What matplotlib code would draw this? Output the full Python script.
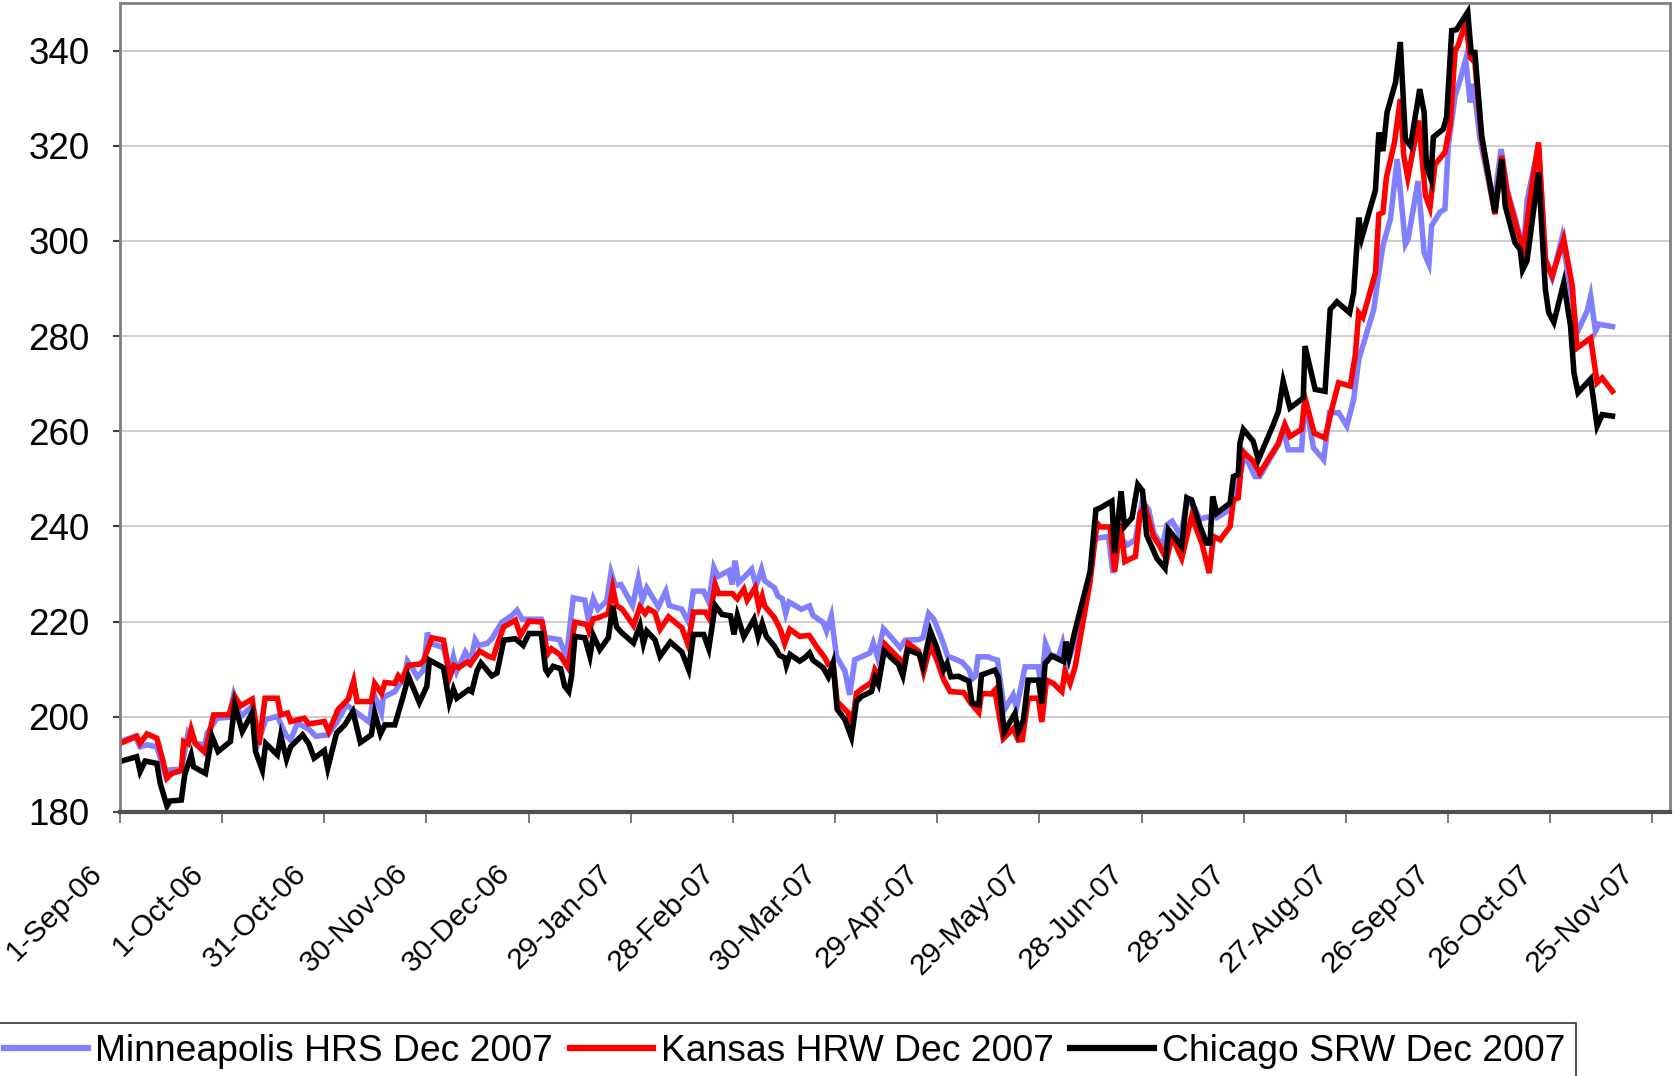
import matplotlib
matplotlib.use('Agg')
import matplotlib.pyplot as plt
from matplotlib.transforms import ScaledTranslation

plt.rcParams['font.family'] = ['Liberation Sans', 'DejaVu Sans']

# x values are days since 1-Sep-2006
mpls_day = [0, 4.4, 5.9, 7.9, 10.8, 13.3, 14.3, 18.0, 20.0, 22.1, 24.9, 25.6, 28.5, 32.0, 33.4, 35.4, 38.8, 40.8, 42.8, 46.2, 48.7, 50.1, 52.1, 55.6, 57.5, 61.0,
            63.6, 66.5, 70.4, 73.3, 74.5, 76.8, 77.3, 80.7, 82.2, 83.2, 84.4, 86.1, 87.3, 89.1, 90.3, 91.0, 95.0, 96.7, 97.9, 98.9, 101.4, 103.0, 104.3, 105.3, 107.8, 109.2, 110.7, 112.2, 115.1, 116.6, 118.1, 123.7, 125.0,
            125.7, 129.1, 131.1, 133.1, 136.5, 137.5, 139.0, 140.4, 142.9, 144.2, 145.4, 147.1, 150.5, 152.2, 153.4, 154.7, 158.1, 160.3, 161.3, 165.0, 167.0, 168.4, 171.4, 172.9, 174.4, 175.6, 178.8, 179.8, 180.6, 181.7, 184.2, 185.5, 186.8, 188.4,
            189.3, 192.2, 193.2, 194.5, 195.5, 196.5, 200.1, 202.5, 203.5, 206.5, 207.5, 208.9, 210.4, 212.9, 214.3, 215.8, 220.2, 221.2, 222.4, 224.2, 227.1, 229.1, 230.6, 234.5, 235.8, 237.5, 239.0, 241.4, 243.1, 244.3, 247.3, 249.3, 250.2, 251.2,
            252.0, 255.0, 255.9, 257.7, 259.7, 262.3, 263.3, 265.8, 269.7, 270.5, 271.8, 273.1, 275.6, 276.8, 278.0, 280.5, 284.9, 286.2, 286.9, 290.3, 291.6, 293.5, 295.8, 298.2, 300.2, 302.1, 303.6, 306.1, 307.5, 309.0, 311.5, 313.4, 315.9,
            317.0, 319.5, 322.0, 325.9, 327.9, 330.3, 333.3, 334.7, 340.2, 341.6, 343.1, 347.0, 348.0, 350.5, 353.5, 355.2, 357.9, 360.3, 362.3, 363.8, 368.2, 369.7, 370.9, 373.1, 375.1, 377.5,
            378.3, 381.2, 383.0, 384.4, 385.2, 387.6, 389.1, 390.1, 392.1, 393.5, 395.2, 396.5, 397.5, 399.4, 403.4, 405.6, 407.3, 409.7, 412.2, 413.2, 416.6, 418.6, 420.6, 423.5, 426.0, 427.9, 430.9, 431.9, 433.3, 434.3, 438.3]
mpls_val = [194.8, 195.9, 193.7, 194.1, 193.7, 187.8, 188.8, 189.0, 196.6, 194.4, 194.1, 196.6, 199.7, 199.9, 204.6, 200.0, 202.2, 195.1, 199.4, 200.1, 196.2, 195.1, 198.7, 197.3, 195.9, 196.2,
            198.8, 202.5, 200.4, 198.8, 204.9, 200.8, 204.1, 205.3, 207.0, 207.5, 211.7, 209.9, 208.4, 209.8, 217.7, 215.5, 214.5, 209.2, 212.6, 209.6, 213.6, 211.7, 216.2, 215.0, 215.4, 216.4, 218.2, 219.9, 221.3, 222.4, 220.5, 220.5, 216.2,
            216.6, 216.2, 212.4, 225.0, 224.5, 220.5, 224.8, 222.6, 224.3, 230.3, 227.5, 227.8, 223.4, 229.0, 224.5, 227.1, 223.1, 226.4, 223.4, 222.6, 219.8, 226.4, 226.4, 224.1, 231.4, 229.5, 230.7, 227.8, 232.8, 228.2, 230.0, 231.0, 227.5, 231.0,
            228.6, 227.1, 225.4, 224.8, 221.7, 224.1, 222.6, 223.3, 221.3, 219.8, 218.0, 221.2, 212.7, 209.6, 204.6, 212.0, 213.4, 215.5, 212.7, 218.5, 216.2, 214.5, 216.1, 216.2, 216.6, 221.7, 220.5, 216.2, 212.6, 212.4, 211.5, 209.9, 207.9, 208.5,
            212.6, 212.6, 212.3, 211.9, 201.4, 204.6, 201.8, 210.5, 210.5, 206.3, 215.4, 213.0, 212.6, 215.4, 210.5, 216.1, 229.5, 237.2, 237.5, 237.9, 230.2, 237.9, 236.1, 237.2, 245.3, 243.5, 238.6, 235.8, 240.4, 241.1, 237.9, 245.8, 243.5,
            241.5, 242.0, 241.8, 243.5, 247.7, 255.1, 250.5, 250.5, 257.2, 260.4, 256.1, 256.1, 266.7, 256.5, 254.0, 263.9, 263.9, 261.1, 266.7, 275.1, 285.6, 293.3, 299.0, 304.6, 317.2, 299.3,
            300.4, 312.6, 297.5, 295.1, 303.2, 306.0, 306.7, 320.0, 330.5, 333.7, 338.2, 329.1, 333.0, 321.4, 307.4, 319.3, 310.9, 304.9, 297.9, 308.4, 320.0, 296.1, 292.3, 300.7, 289.8, 280.7, 285.3, 288.4, 281.1, 282.5, 282.0]

kans_day = [0, 4.9, 5.9, 7.9, 10.8, 12.3, 13.8, 15.2, 18.0, 18.7, 20.0, 20.9, 22.1, 24.9, 27.5, 32.0, 33.7, 35.4, 38.8, 40.8, 42.6, 46.2, 47.2, 49.2, 50.1, 54.1, 55.4, 60.0, 61.3,
            64.0, 67.0, 68.6, 69.6, 73.8, 74.8, 76.8, 77.8, 80.7, 81.7, 82.7, 84.7, 88.1, 89.1, 91.6, 95.0, 96.9, 98.1, 99.4, 101.9, 102.8, 105.6, 108.3, 109.6, 110.7, 112.7, 116.1, 117.6, 120.1, 124.0, 125.5,
            126.7, 129.1, 131.6, 133.6, 137.0, 137.7, 139.0, 140.4, 143.4, 144.7, 145.8, 147.5, 150.8, 152.7, 154.2, 155.2, 157.1, 158.6, 161.1, 165.0, 166.8, 168.4, 171.9, 173.1, 174.8, 175.8, 179.8, 181.3, 183.2, 184.2, 186.5, 187.6, 188.6,
            189.3, 192.2, 193.9, 195.2, 196.7, 199.6, 202.4, 204.5, 207.0, 208.0, 209.4, 210.6, 213.9, 214.8, 216.3, 218.1, 220.7, 221.7, 223.0, 224.7, 229.1, 230.1, 231.5, 234.5, 236.0, 238.0, 239.9, 241.9, 243.8, 247.8, 249.7, 252.2,
            253.0, 255.9, 256.9, 259.4, 262.3, 263.8, 265.0, 266.7, 269.7, 270.7, 272.1, 274.1, 276.6, 277.5, 279.0, 280.5, 284.9, 286.9, 287.9, 290.8, 292.1, 293.8, 295.1, 298.2, 299.6, 301.0, 303.5, 305.4, 307.4, 308.9, 311.8, 314.7,
            317.7, 319.9, 321.1, 323.1, 326.0, 327.0, 328.4, 329.7, 332.8, 334.7, 340.2, 342.1, 343.6, 347.0, 348.0, 350.7, 353.9, 356.2, 357.9, 361.3, 362.8, 363.8, 365.0, 368.7, 369.7, 370.9, 371.9, 374.3, 376.0, 377.0, 378.2,
            381.4, 383.4, 384.7, 386.2, 389.1, 390.6, 392.1, 393.0, 395.2, 396.5, 397.9, 399.9, 403.8, 405.8, 407.3, 410.7, 412.2, 414.2, 416.6, 418.6, 420.6, 424.0, 426.5, 427.9, 431.9, 433.8, 435.3, 438.3]
kans_val = [194.4, 195.9, 194.4, 196.4, 195.5, 191.6, 187.1, 188.1, 188.7, 194.8, 194.3, 197.3, 194.4, 192.5, 200.4, 200.4, 204.3, 202.3, 203.7, 194.1, 203.9, 203.9, 200.4, 200.8, 199.0, 199.7, 198.5, 199.0, 196.9,
            201.5, 203.7, 207.5, 203.2, 203.2, 207.0, 204.9, 207.2, 207.0, 208.6, 207.8, 210.8, 211.1, 211.7, 216.6, 216.1, 208.5, 210.8, 210.3, 211.5, 211.0, 213.8, 212.7, 212.4, 215.0, 218.9, 220.3, 217.1, 220.1, 219.9, 213.1,
            214.3, 213.1, 210.3, 219.9, 219.4, 218.0, 220.6, 220.8, 221.7, 227.1, 223.4, 222.6, 219.2, 223.1, 221.7, 222.7, 221.9, 218.4, 221.0, 218.7, 215.2, 222.0, 222.0, 220.6, 227.8, 225.9, 225.9, 224.8, 226.8, 224.5, 227.1, 223.1, 225.3,
            223.3, 220.8, 218.4, 215.4, 218.4, 216.9, 217.1, 214.8, 212.4, 211.0, 211.3, 203.2, 200.8, 197.3, 205.0, 206.0, 207.2, 209.9, 208.5, 215.2, 212.0, 210.6, 215.4, 213.8, 209.4, 215.0, 211.9, 207.8, 205.3, 205.1, 203.0, 200.9,
            204.9, 204.8, 205.6, 195.4, 197.5, 195.1, 195.2, 203.9, 203.9, 198.9, 207.7, 207.0, 205.3, 209.5, 207.0, 210.5, 228.4, 240.7, 239.9, 239.9, 230.5, 240.6, 232.6, 233.7, 242.8, 244.2, 237.9, 235.8, 233.0, 237.9, 233.3, 242.1,
            236.5, 230.2, 237.9, 237.2, 240.0, 245.6, 246.0, 255.8, 253.7, 251.2, 257.5, 261.4, 258.9, 260.4, 267.0, 259.6, 258.6, 265.6, 270.2, 269.5, 276.1, 284.9, 283.9, 293.3, 305.6, 306.0, 313.3, 320.7, 329.8, 317.9, 313.3,
            325.3, 309.5, 307.0, 316.1, 318.6, 324.2, 340.0, 341.1, 346.0, 338.6, 337.5, 321.4, 305.6, 317.9, 310.5, 301.4, 298.2, 309.5, 320.7, 296.1, 292.6, 300.4, 290.5, 277.5, 279.6, 270.2, 271.2, 268.4]

chic_day = [0, 4.9, 5.9, 7.4, 10.8, 11.8, 13.8, 14.7, 18.0, 19.0, 20.9, 21.6, 25.1, 27.0, 28.8, 32.4, 33.7, 35.9, 38.8, 39.8, 41.8, 42.8, 46.2, 47.2, 48.9, 50.1, 53.6, 55.4, 57.0, 60.0, 61.0,
            63.6, 66.0, 68.4, 70.6, 73.8, 74.8, 76.5, 77.8, 80.7, 83.2, 84.7, 87.9, 90.1, 90.9, 95.0, 96.7, 97.9, 98.9, 102.4, 103.3, 104.8, 106.0, 109.2, 110.7, 112.7, 116.1, 118.4, 120.1, 123.7, 125.0,
            125.7, 127.2, 129.4, 130.6, 131.8, 132.6, 133.6, 136.5, 138.0, 139.0, 140.9, 143.4, 144.7, 145.8, 147.3, 150.8, 152.7, 153.7, 154.7, 157.1, 158.6, 161.6, 165.0, 167.0, 168.4, 171.4, 172.9, 174.8, 176.8, 179.3, 180.3, 181.3, 183.2, 186.2, 187.4, 188.6,
            189.8, 192.2, 193.7, 195.2, 195.7, 196.8, 199.6, 201.1, 202.5, 203.5, 206.5, 208.0, 209.4, 210.6, 212.9, 214.8, 216.3, 217.8, 220.7, 221.7, 222.7, 224.4, 228.6, 229.9, 231.3, 234.8, 235.8, 238.0, 239.9, 241.9, 242.9, 244.0, 246.3, 249.3, 250.2, 252.2,
            253.0, 256.9, 257.9, 259.7, 262.8, 263.8, 265.3, 266.7, 269.7, 270.7, 271.7, 273.6, 277.1, 277.8, 278.7, 280.5, 284.9, 286.6, 287.9, 291.3, 292.1, 294.0, 295.0, 297.2, 298.9, 300.3, 301.5, 304.5, 306.9, 307.9, 310.3, 311.8, 313.3, 314.7,
            317.2, 319.1, 320.1, 320.9, 322.1, 326.0, 327.0, 328.4, 328.9, 329.9, 332.8, 334.3, 338.7, 340.2, 341.6, 343.6, 347.5, 348.0, 351.0, 353.9, 355.4, 357.4, 361.1, 362.3, 363.8, 364.7, 368.7, 369.7, 370.9, 372.1, 374.6, 376.0, 377.5, 379.0,
            381.7, 383.0, 383.7, 385.0, 385.7, 388.6, 389.6, 391.1, 392.5, 395.8, 396.8, 397.9, 399.9, 403.8, 405.8, 406.8, 409.7, 411.2, 411.9, 413.2, 416.6, 418.6, 419.6, 421.1, 424.0, 426.0, 427.0, 428.2, 431.9, 433.8, 435.3, 438.3]
chic_val = [190.6, 191.6, 188.5, 190.7, 190.2, 186.0, 181.2, 182.3, 182.5, 187.8, 192.0, 189.5, 188.1, 195.9, 192.7, 194.8, 202.5, 196.9, 200.8, 192.7, 188.8, 194.4, 192.0, 196.0, 191.1, 193.7, 196.2, 194.4, 191.3, 192.9, 189.2,
            196.6, 198.3, 201.1, 194.6, 196.2, 200.8, 196.4, 198.3, 198.3, 204.4, 208.5, 203.0, 206.4, 211.9, 210.3, 203.0, 205.8, 203.9, 205.7, 205.3, 209.6, 211.3, 208.6, 209.2, 216.1, 216.4, 215.0, 217.5, 217.5, 209.9,
            209.1, 210.6, 210.1, 206.4, 205.3, 208.5, 216.9, 216.6, 212.7, 217.1, 214.1, 216.6, 223.3, 218.9, 217.7, 215.5, 219.2, 215.4, 218.0, 216.2, 212.7, 215.7, 213.6, 209.9, 217.3, 217.3, 214.3, 223.4, 221.5, 221.2, 217.3, 221.3, 216.8, 220.5, 216.8, 219.6,
            216.9, 214.8, 212.9, 212.4, 210.8, 213.1, 211.7, 212.4, 213.4, 211.9, 210.3, 208.4, 211.3, 201.6, 199.4, 195.7, 203.2, 204.3, 205.3, 208.2, 206.8, 213.8, 211.0, 208.6, 214.1, 213.1, 210.6, 218.0, 214.5, 209.9, 211.2, 208.4, 208.5, 207.5, 202.9, 202.5,
            208.8, 209.8, 208.4, 196.8, 200.7, 196.8, 199.3, 207.7, 207.7, 202.8, 211.2, 212.8, 211.6, 215.8, 212.6, 218.2, 230.5, 243.5, 243.9, 245.3, 234.4, 247.4, 240.0, 241.8, 248.8, 247.5, 238.2, 233.3, 231.2, 239.3, 237.2, 235.8, 246.0, 245.6,
            240.0, 236.5, 236.5, 246.3, 242.8, 244.9, 250.5, 250.9, 257.5, 260.4, 257.9, 254.0, 261.4, 264.2, 270.5, 264.9, 267.0, 277.9, 268.8, 268.4, 285.6, 287.2, 284.9, 289.1, 304.9, 300.7, 310.7, 322.8, 318.9, 327.0, 333.3, 341.8, 321.4, 320.0,
            331.9, 327.0, 315.8, 313.0, 321.8, 323.5, 326.0, 344.2, 344.4, 348.1, 339.6, 339.6, 322.1, 306.0, 317.2, 307.4, 299.6, 298.2, 293.9, 295.8, 314.4, 289.8, 284.9, 282.9, 291.2, 282.1, 272.3, 268.1, 271.0, 261.1, 263.5, 263.2]

series_names = ['Minneapolis HRS Dec 2007', 'Kansas HRW Dec 2007', 'Chicago SRW Dec 2007']
tick_days = [0, 30, 60, 90, 120, 150, 180, 210, 240, 270, 300, 330, 360, 390, 420, 450]
tick_labels = ['1-Sep-06', '1-Oct-06', '31-Oct-06', '30-Nov-06', '30-Dec-06', '29-Jan-07', '28-Feb-07',
               '30-Mar-07', '29-Apr-07', '29-May-07', '28-Jun-07', '28-Jul-07', '27-Aug-07', '26-Sep-07',
               '26-Oct-07', '25-Nov-07']
y_ticks = [180, 200, 220, 240, 260, 280, 300, 320, 340]

fig = plt.figure(figsize=(16.74, 10.76), dpi=100)
ax = fig.add_axes([0.0717, 0.2454, 0.9259, 0.7518])

l1, = ax.plot(mpls_day, mpls_val, color='#8080FF', lw=4.0, label=series_names[0], solid_joinstyle='miter')
l2, = ax.plot(kans_day, kans_val, color='#FF0000', lw=4.0, label=series_names[1], solid_joinstyle='miter')
l3, = ax.plot(chic_day, chic_val, color='#000000', lw=4.0, label=series_names[2], solid_joinstyle='miter')

ax.set_xlim(0, 455.2)
ax.set_ylim(180, 350)
ax.set_yticks(y_ticks)
ax.set_yticklabels([str(v) for v in y_ticks])
ax.yaxis.grid(True, color='#C0C0C0', lw=1.1)
ax.set_axisbelow(True)

for side in ['left', 'top', 'right']:
    ax.spines[side].set_color('#808080')
    ax.spines[side].set_linewidth(2)
ax.spines['bottom'].set_color('#505050')
ax.spines['bottom'].set_linewidth(3)

ax.tick_params(axis='y', length=5, width=1.5, color='#404040', pad=17, labelsize=26.5)
ax.tick_params(axis='x', length=8, width=1.3, color='#707070', pad=36, labelsize=21.5)
ax.set_xticks(tick_days)
ax.set_xticklabels(tick_labels, rotation=45, ha='right', va='center', rotation_mode='anchor')
offset = ScaledTranslation(-0.225, 0.04, fig.dpi_scale_trans)
for lab in ax.get_xticklabels():
    lab.set_transform(lab.get_transform() + offset)

leg = fig.legend(handles=[l1, l2, l3], labels=series_names, loc='upper right',
                 bbox_to_anchor=(0.9415, 0.0495), bbox_transform=fig.transFigure,
                 ncol=3, fontsize=26.8, frameon=True, fancybox=False, borderaxespad=0,
                 handlelength=2.25, handletextpad=0.2, columnspacing=0.45, borderpad=0.3)
leg.get_frame().set_edgecolor('#000000')
leg.get_frame().set_linewidth(1.2)
for h in leg.legend_handles:
    h.set_linewidth(4.5)

fig.savefig('out.png', dpi=100)
